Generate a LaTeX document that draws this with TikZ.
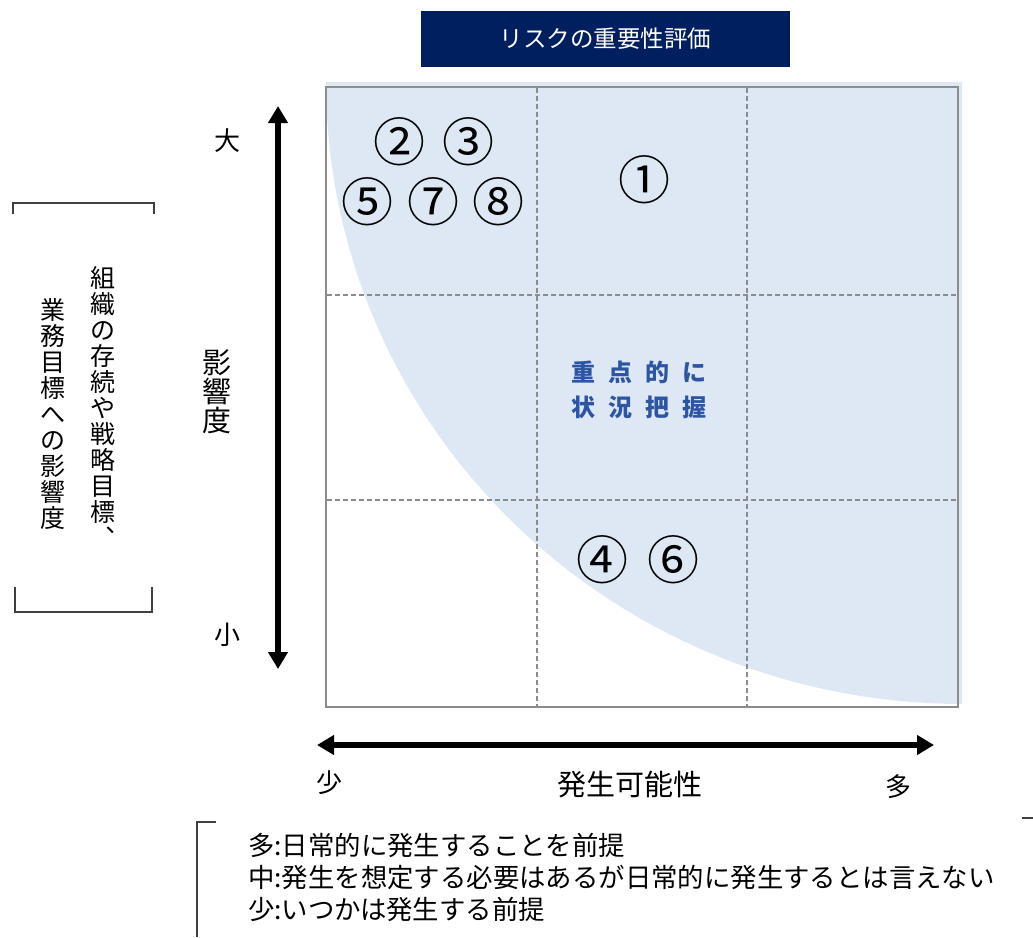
\documentclass[tikz,border=0pt]{standalone}
\usepackage{fontspec}
\setmainfont{Noto Sans CJK JP}
\usetikzlibrary{arrows.meta}
\definecolor{navy}{HTML}{001F5F}
\definecolor{riskfill}{HTML}{DDE8F4}
\definecolor{riskblue}{HTML}{2E55A4}
\definecolor{gridgray}{HTML}{8C8C8C}
\definecolor{brk}{HTML}{404040}
\begin{document}
\begin{tikzpicture}[x=1pt,y=-1pt,
  lbl/.style={inner sep=0pt, font=\fontsize{26}{26}\selectfont},
  axlbl/.style={inner sep=0pt, font=\fontsize{29}{29}\selectfont},
  circnum/.style={inner sep=0pt, font=\fontsize{52}{52}\selectfont},
  vtext/.style={inner sep=0pt, align=center, anchor=north, font=\fontsize{25}{26}\selectfont},
  focus/.style={inner sep=0pt, text=riskblue, font=\fontsize{24}{24}\selectfont\bfseries},
  gridline/.style={draw=gridgray, line width=1.8pt, dash pattern=on 5pt off 3pt},
  bigarrow/.style={line width=5.5pt, {Triangle[length=17pt,width=19pt]}-{Triangle[length=17pt,width=19pt]}},
  bracket/.style={draw=brk, line width=1.4pt}
]
\useasboundingbox (0,0) rectangle (1033,937);

% title
\node[fill=navy, minimum width=369pt, minimum height=56pt, inner sep=0pt, text=white,
  font=\fontsize{23.5}{23.5}\selectfont] (title) at (605.5,39) {リスクの重要性評価};

% shaded region
\fill[riskfill] (326,82) -- (962,82) -- (962,704)
  -- plot[domain=90:0, samples=60] ({962-636*cos(\x)},{82+622*sin(\x)}) -- cycle;

% grid
\draw[gridline] (537,88) -- (537,706);
\draw[gridline] (747,88) -- (747,706);
\draw[gridline] (327,295) -- (957,295);
\draw[gridline] (327,500) -- (957,500);
\draw[draw=gridgray, line width=2.5pt] (326,87) rectangle (958,707);

% axes
\coordinate (vtop) at (278,106);
\coordinate (vbot) at (278,669);
\draw[bigarrow] (vtop) -- (vbot);
\coordinate (hleft) at (317,745);
\coordinate (hright) at (934,745);
\draw[bigarrow] (hleft) -- (hright);

% axis labels
\node[lbl] (big) at (227,141) {大};
\node[lbl] (small) at (227,635) {小};
\node[axlbl, align=center, font=\fontsize{29}{29}\selectfont] (impact) at (217,392) {影\\響\\度};
\node[lbl] (few) at (329,783) {少};
\node[axlbl] (prob) at (630,785) {発生可能性};
\node[lbl] (many) at (898,787) {多};

% circled numbers
\node[circnum] (n2) at (399,142) {②};
\node[circnum] (n3) at (468,142) {③};
\node[circnum] (n5) at (367,202) {⑤};
\node[circnum] (n7) at (433,202) {⑦};
\node[circnum] (n8) at (498,202) {⑧};
\node[circnum] (n1) at (644,180) {①};
\node[circnum] (n4) at (602,560) {④};
\node[circnum] (n6) at (673,560) {⑥};

% focus text
\node[focus] (focus1) at (639,372) {重\hspace{13pt}点\hspace{13pt}的\hspace{13pt}に};
\node[focus] (focus2) at (639,407) {状\hspace{13pt}況\hspace{13pt}把\hspace{13pt}握};

% left bracket and vertical text
\draw[bracket] (13,214) -- (13,203) -- (154,203) -- (154,214);
\draw[bracket] (15,587) -- (15,612) -- (152,612) -- (152,587);
\node[vtext] (vcol1) at (103,266) {組\\織\\の\\存\\続\\や\\戦\\略\\目\\標\\︑};
\node[vtext] (vcol2) at (53,298) {業\\務\\目\\標\\へ\\の\\影\\響\\度};

% bottom note
\draw[bracket] (216,822) -- (197,822) -- (197,937);
\draw[bracket] (1022,818) -- (1033,818);
\node[inner sep=0pt, anchor=west, align=left, font=\fontsize{26.4}{32}\selectfont] (note) at (248,877)
  {多:日常的に発生することを前提\\中:発生を想定する必要はあるが日常的に発生するとは言えない\\少:いつかは発生する前提};
\end{tikzpicture}
\end{document}
